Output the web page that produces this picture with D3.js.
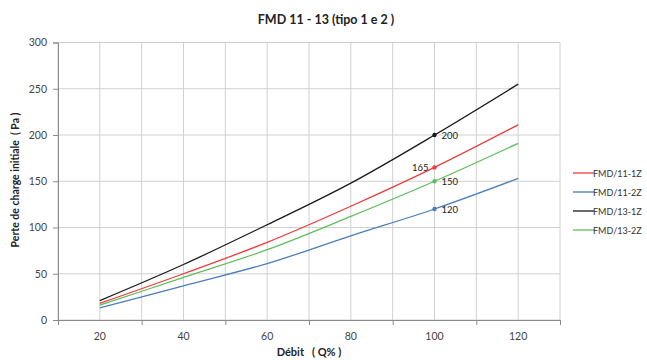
<!DOCTYPE html>
<html><head><meta charset="utf-8">
<script src="https://cdn.jsdelivr.net/npm/d3@7"></script>
<style>
body{margin:0;background:#fff;}
svg{display:block;font-family:Lato,"Noto Sans",sans-serif;}
text{white-space:pre;}
</style></head>
<body><svg id="c" width="647" height="360"></svg>
<script>
const xValues = [20, 40, 60, 80, 100, 120];
const seriesNames = ["FMD/11-1Z", "FMD/11-2Z", "FMD/13-1Z", "FMD/13-2Z"];
const seriesColors = ["#ee3b3b", "#4a7ebb", "#1a1a1a", "#5cbf5c"];
const fmd111z = [18, 50, 84, 123, 165, 211];
const fmd112z = [13, 37, 61, 91, 120, 153];
const fmd131z = [21, 60, 103, 148, 200, 255];
const fmd132z = [16, 46, 76, 112, 150, 191];
const seriesValues = [fmd111z, fmd112z, fmd131z, fmd132z];
const xTickLabels = [20, 40, 60, 80, 100, 120];
const yTickLabels = [0, 50, 100, 150, 200, 250, 300];
const markedX = 100;
const pointLabels = ["165", "120", "200", "150"];
const labelSide = ["left", "right", "right", "right"];

const svg = d3.select("#c");
const x = d3.scaleLinear().domain([10, 130]).range([58, 560]);
const y = d3.scaleLinear().domain([0, 300]).range([320, 42.5]);

// gridlines
const g = svg.append("g");
g.selectAll(".vg").data(d3.range(10, 131, 10)).enter().append("line")
  .attr("x1", d => x(d)).attr("x2", d => x(d)).attr("y1", y(300)).attr("y2", y(0))
  .attr("stroke", "#d0d0d0").attr("stroke-width", 1);
g.selectAll(".hg").data(yTickLabels).enter().append("line")
  .attr("x1", x(10)).attr("x2", x(130)).attr("y1", d => y(d)).attr("y2", d => y(d))
  .attr("stroke", "#d0d0d0").attr("stroke-width", 1);

// axes
const xAxis = d3.axisBottom(x).tickValues(d3.range(10, 131, 20)).tickSize(5).tickFormat("");
svg.append("g").attr("transform", `translate(0,${y(0)})`).call(xAxis)
  .call(s => { s.select(".domain").attr("stroke", "#8a8a8a"); s.selectAll("line").attr("stroke", "#8a8a8a"); });
svg.append("g").selectAll("text").data(xTickLabels).enter().append("text")
  .attr("x", d => x(d)).attr("y", 340).attr("text-anchor", "middle")
  .attr("font-size", 10.5).attr("fill", "#444").text(d => d);

const yAxis = d3.axisLeft(y).tickValues(yTickLabels).tickSize(5).tickPadding(6);
svg.append("g").attr("transform", `translate(${x(10)},0)`).call(yAxis)
  .call(s => {
    s.select(".domain").attr("stroke", "#8a8a8a");
    s.selectAll("line").attr("stroke", "#8a8a8a");
    s.selectAll("text").attr("font-size", 10.5).attr("fill", "#444").attr("font-family", "Lato,'Noto Sans',sans-serif");
  });

// lines
const line = d3.line().x((d, i) => x(xValues[i])).y(d => y(d)).curve(d3.curveCatmullRom.alpha(0.5));
seriesValues.forEach((vals, k) => {
  svg.append("path").datum(vals).attr("d", line).attr("fill", "none")
    .attr("stroke", seriesColors[k]).attr("stroke-width", 1.3);
  const idx = xValues.indexOf(markedX);
  const v = vals[idx];
  svg.append("circle").attr("cx", x(markedX)).attr("cy", y(v)).attr("r", 2.2).attr("fill", seriesColors[k]);
  svg.append("text")
    .attr("x", labelSide[k] === "left" ? x(markedX) - 6 : x(markedX) + 7)
    .attr("y", y(v) + 3.5)
    .attr("text-anchor", labelSide[k] === "left" ? "end" : "start")
    .attr("font-size", 9.5).attr("fill", "#222").text(pointLabels[k]);
});

// title
svg.append("text").attr("x", 326).attr("y", 24).attr("text-anchor", "middle")
  .attr("font-size", 12.5).attr("font-weight", "bold").attr("fill", "#222")
  .text("FMD 11 - 13 (tipo 1 e 2 )");
// axis titles
svg.append("text").attr("transform", "translate(19,180) rotate(-90)").attr("text-anchor", "middle")
  .attr("font-size", 10.5).attr("font-weight", "bold").attr("fill", "#222")
  .text("Perte de charge initiale  ( Pa )");
svg.append("text").attr("x", 309).attr("y", 356).attr("text-anchor", "middle")
  .attr("font-size", 11).attr("font-weight", "bold").attr("fill", "#222")
  .text("Débit   ( Q% )");

// legend
const lg = svg.append("g");
seriesNames.forEach((n, k) => {
  const yy = 173 + k * 19;
  lg.append("line").attr("x1", 573).attr("x2", 594).attr("y1", yy).attr("y2", yy)
    .attr("stroke", seriesColors[k]).attr("stroke-width", 1.3);
  lg.append("text").attr("x", 593).attr("y", yy + 3.5).attr("font-size", 9)
    .attr("fill", "#333").text(n);
});
</script></body></html>
